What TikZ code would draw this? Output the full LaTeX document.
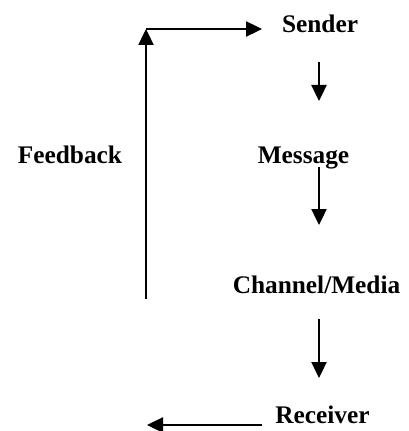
\documentclass[tikz,border=0pt]{standalone}
\usepackage{fontspec}
\setmainfont{Liberation Serif}
\usetikzlibrary{arrows.meta}
\begin{document}
\begin{tikzpicture}[x=0.75pt,y=-0.75pt,
  lbl/.style={font=\bfseries\fontsize{19}{23}\selectfont, inner sep=0pt, anchor=base},
  arr/.style={line width=0.8pt, -{Triangle[length=12pt,width=11.5pt]}}]
\useasboundingbox (0,0) rectangle (408,431);
\node[lbl] (sender) at (320,33) {Sender};
\node[lbl] (message) at (303.5,163) {Message};
\node[lbl] (feedback) at (70,163) {Feedback};
\node[lbl] (channel) at (316.5,293) {Channel/Media};
\node[lbl] (receiver) at (322.5,423) {Receiver};
\coordinate (s1) at (319,62);
\coordinate (s2) at (319,101);
\coordinate (m1) at (319,167);
\coordinate (m2) at (319,225);
\coordinate (c1) at (319,319);
\coordinate (c2) at (319,378);
\coordinate (r1) at (262,425);
\coordinate (r2) at (147,425);
\coordinate (fb) at (146,299);
\coordinate (corner) at (146,29);
\coordinate (top) at (262,29);
\draw[arr] (s1) -- (s2);
\draw[arr] (m1) -- (m2);
\draw[arr] (c1) -- (c2);
\draw[arr] (r1) -- (r2);
\draw[arr] (fb) -- (corner);
\draw[arr] (corner) -- (top);
\end{tikzpicture}
\end{document}
